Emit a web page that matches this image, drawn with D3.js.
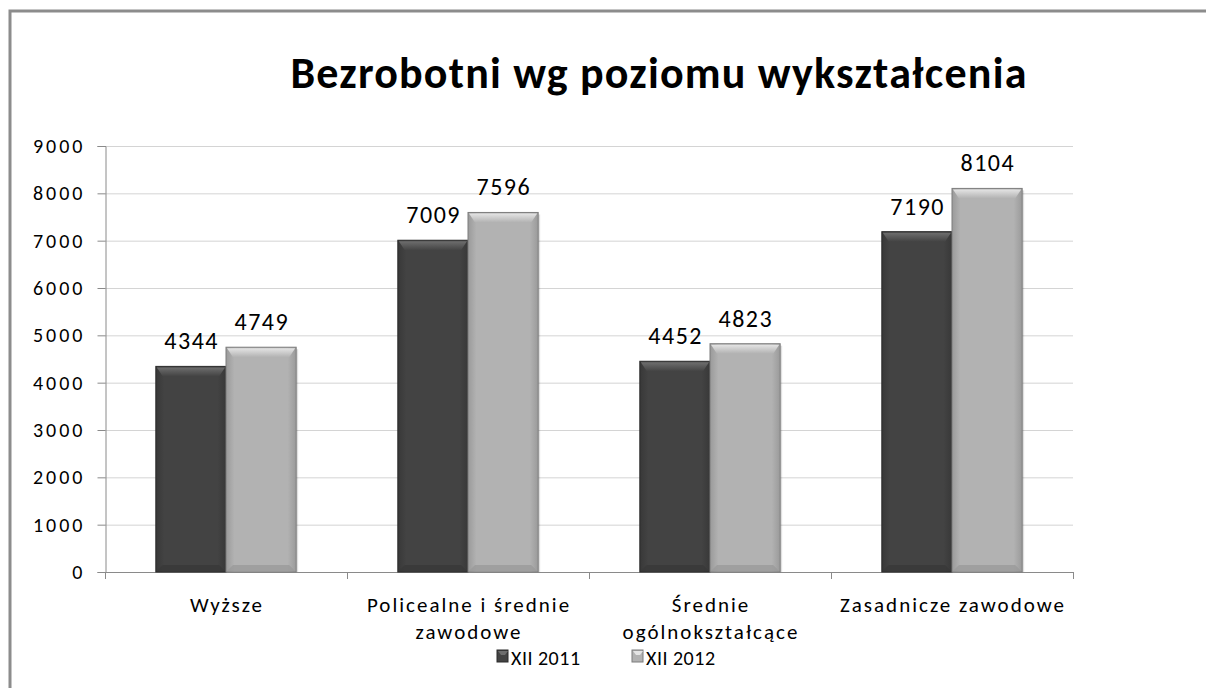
<!DOCTYPE html>
<html><head><meta charset="utf-8">
<script src="https://cdn.jsdelivr.net/npm/d3@7"></script>
<style>body{margin:0;background:#fff;} svg{display:block;} text{font-family:Carlito,Lato,"Open Sans",sans-serif;}</style>
</head><body>
<svg id="c" width="1206" height="688"></svg>
<script>
const categories = [["Wyższe"], ["Policealne i średnie", "zawodowe"], ["Średnie", "ogólnokształcące"], ["Zasadnicze zawodowe"]];
const seriesNames = ["XII 2011", "XII 2012"];
const values2011 = [4344, 7009, 4452, 7190];
const values2012 = [4749, 7596, 4823, 8104];
const yTicks = [0, 1000, 2000, 3000, 4000, 5000, 6000, 7000, 8000, 9000];
const title = "Bezrobotni wg poziomu wykształcenia";

const svg = d3.select("#c");
const defs = svg.append("defs");
const palettes = [
  {body:"#434343", edge:"#2a2a2a", top:"#6e6e6e", side:"#383838", key:"dark"},
  {body:"#b2b2b2", edge:"#7d7d7d", top:"#e4e4e4", side:"#9a9a9a", key:"light"}
];
palettes.forEach(p => {
  const g = defs.append("linearGradient").attr("id","h"+p.key).attr("x1","0").attr("x2","1").attr("y1","0").attr("y2","0");
  g.append("stop").attr("offset","0").attr("stop-color",p.side);
  g.append("stop").attr("offset","0.12").attr("stop-color",p.body);
  g.append("stop").attr("offset","0.88").attr("stop-color",p.body);
  g.append("stop").attr("offset","1").attr("stop-color",p.side);
  const v = defs.append("linearGradient").attr("id","v"+p.key).attr("x1","0").attr("x2","0").attr("y1","0").attr("y2","1");
  v.append("stop").attr("offset","0").attr("stop-color",p.top);
  v.append("stop").attr("offset","1").attr("stop-color",p.body);
});

// frame
svg.append("rect").attr("x",10).attr("y",11).attr("width",1206).attr("height",700)
  .attr("fill","#fff").attr("stroke","#8c8c8c").attr("stroke-width",3);

svg.append("text").attr("x",659).attr("y",88).attr("text-anchor","middle")
  .attr("font-size",44).attr("font-weight","bold").attr("letter-spacing",1.2).attr("fill","#000").text(title);

const x0 = d3.scaleBand().domain(d3.range(categories.length)).range([105,1073]).paddingInner(0.42).paddingOuter(0.21);
const x1 = d3.scaleBand().domain([0,1]).range([0, x0.bandwidth()]).padding(0);
const y = d3.scaleLinear().domain([0,9000]).range([572,146]);

// gridlines
svg.append("g").selectAll("line").data(yTicks.filter(t=>t>0)).join("line")
  .attr("x1",105).attr("x2",1073).attr("y1",d=>y(d)+0.5).attr("y2",d=>y(d)+0.5)
  .attr("stroke","#d4d4d4").attr("stroke-width",1);

// y axis
const yAxis = svg.append("g").attr("transform","translate(105.5,0)")
  .call(d3.axisLeft(y).tickValues(yTicks).tickSize(8).tickPadding(12).tickFormat(d3.format("d")));
yAxis.select(".domain").attr("stroke","#8a8a8a");
yAxis.selectAll(".tick line").attr("stroke","#8a8a8a");
yAxis.selectAll("text").attr("font-size",20).attr("letter-spacing",3).attr("fill","#000").attr("font-family","Carlito,Lato,sans-serif");

// x axis
const xg = svg.append("g");
xg.append("line").attr("x1",105).attr("x2",1073.5).attr("y1",572.5).attr("y2",572.5).attr("stroke","#8a8a8a");
const step = (1073-105)/categories.length;
xg.selectAll("line.t").data(d3.range(categories.length+1)).join("line").attr("class","t")
  .attr("x1",d=>105.5+d*step).attr("x2",d=>105.5+d*step).attr("y1",572).attr("y2",579).attr("stroke","#8a8a8a");

// category labels
categories.forEach((lines,i)=>{
  const t = svg.append("text").attr("text-anchor","middle").attr("font-size",21).attr("letter-spacing",2).attr("fill","#000");
  lines.forEach((ln,j)=>{
    t.append("tspan").attr("x",x0(i)+x0.bandwidth()/2+1).attr("y",612+j*27).text(ln);
  });
});

// bars
const series = [values2011, values2012];
series.forEach((vals,s)=>{
  const p = palettes[s];
  const g = svg.append("g");
  vals.forEach((v,i)=>{
    const bx = x0(i)+x1(s), bw = x1.bandwidth(), by = y(v), bh = y(0)-y(v);
    const b = 7;
    g.append("rect").attr("x",bx+2).attr("y",by+2).attr("width",bw).attr("height",bh-2).attr("fill","#000").attr("opacity",0.12);
    g.append("rect").attr("x",bx).attr("y",by).attr("width",bw).attr("height",bh).attr("fill",`url(#h${p.key})`).attr("stroke",p.edge).attr("stroke-width",1);
    g.append("path").attr("d",`M${bx+1},${by+1}L${bx+bw-1},${by+1}L${bx+bw-b},${by+b+3}L${bx+b},${by+b+3}Z`).attr("fill",`url(#v${p.key})`);
    g.append("path").attr("d",`M${bx+1},${by+bh-1}L${bx+bw-1},${by+bh-1}L${bx+bw-b},${by+bh-b}L${bx+b},${by+bh-b}Z`).attr("fill",p.side).attr("opacity",0.8);
    svg.append("text").attr("x",bx+bw/2+0.75).attr("y",by-17).attr("text-anchor","middle").attr("font-size",24).attr("letter-spacing",1.5).attr("fill","#000").text(v);
  });
});

// legend
const lg = svg.append("g");
const legX = [497, 632];
seriesNames.forEach((n,s)=>{
  const p = palettes[s];
  lg.append("rect").attr("x",legX[s]).attr("y",650).attr("width",11).attr("height",12).attr("fill",p.body).attr("stroke",p.edge);
  lg.append("path").attr("d",`M${legX[s]+1},${651}L${legX[s]+11},${651}L${legX[s]+8},${655}L${legX[s]+4},${655}Z`).attr("fill",p.top);
  lg.append("text").attr("x",legX[s]+14).attr("y",665).attr("font-size",20).attr("letter-spacing",0.5).attr("fill","#000").text(n);
});
</script>
</body></html>
